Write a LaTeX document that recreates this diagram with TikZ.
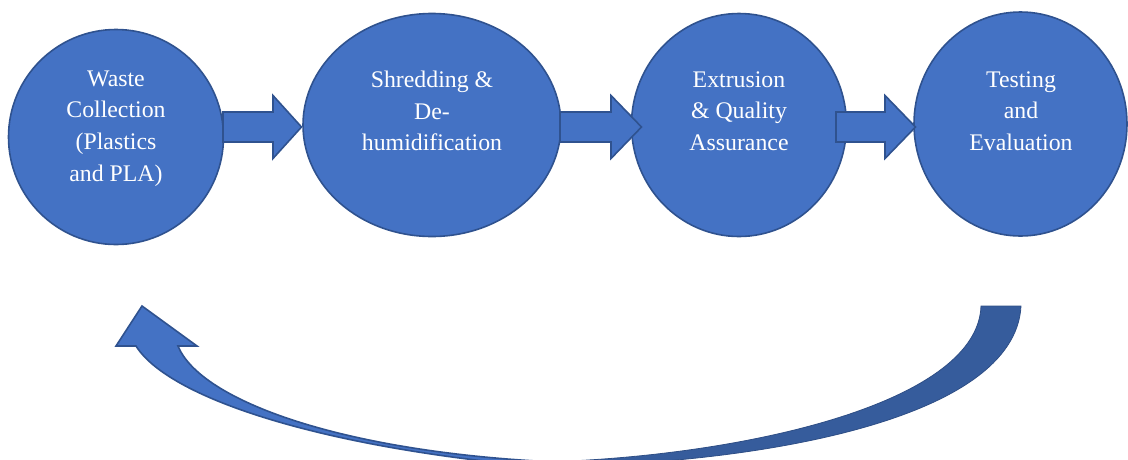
\documentclass[tikz,border=0pt]{standalone}
\usepackage{fontspec}
\setmainfont{Liberation Serif}
\usetikzlibrary{shapes.geometric}
\definecolor{fillblue}{HTML}{4472C4}
\definecolor{edgeblue}{HTML}{2F528F}
\definecolor{darkblue}{HTML}{365C9C}
\newcommand\blockarr[3]{% #1 shaft start x, #2 head base x, #3 tip x
  \draw[blockarrow] (#1,112) -- (#2,112) -- (#2,95.5) -- (#3,127) -- (#2,158.5) -- (#2,142) -- (#1,142) -- cycle;}
\begin{document}
\begin{tikzpicture}[x=1pt,y=-1pt,
  stage/.style={ellipse, draw=edgeblue, fill=fillblue, line width=1.6pt, inner sep=0pt, outer sep=0pt},
  stagetext/.style={text=white, align=center, inner sep=0pt, font=\fontsize{23.8}{31.7}\selectfont},
  blockarrow/.style={draw=edgeblue, fill=fillblue, line width=1.6pt, line join=miter},
  backarm/.style={fill=darkblue, draw=darkblue!85!black, line width=0.8pt}]
\useasboundingbox (0,0) rectangle (1128,459);

% return arrow (drawn first, behind everything)
\begin{scope}
  \clip (0,0) rectangle (1128,459);
  \path[backarm] (981,306) -- (1021,306) .. controls (1015,420) and (760,462) .. (570,466)
      -- (570,461) .. controls (760,452) and (978,400) .. (981,306) -- cycle;
  \draw[blockarrow] (142,306) -- (197,346) -- (178,346) .. controls (200,400) and (340,452) .. (555,462)
      -- (555,468) .. controls (330,450) and (170,400) .. (136,346) -- (116,346) -- cycle;
\end{scope}

% stages
\node[stage, minimum width=215pt, minimum height=215pt] (c1) at (116,137) {};
\node[stage, minimum width=258pt, minimum height=223pt] (c2) at (432,125) {};
\node[stage, minimum width=215pt, minimum height=223pt] (c3) at (739,125) {};
\node[stage, minimum width=213pt, minimum height=224pt] (c4) at (1020.5,124) {};

\node[stagetext] (t1) at (116,128.5) {Waste\\Collection\\(Plastics\\and PLA)};
\node[stagetext] (t2) at (432,111) {Shredding \&\\De-\\humidification};
\node[stagetext] (t3) at (739,111) {Extrusion\\\& Quality\\Assurance};
\node[stagetext] (t4) at (1021,111) {Testing\\and\\Evaluation};

% block arrows between stages
\blockarr{223}{273}{301.5}
\blockarr{560}{611}{641.5}
\blockarr{836}{885}{915.5}
\end{tikzpicture}
\end{document}
